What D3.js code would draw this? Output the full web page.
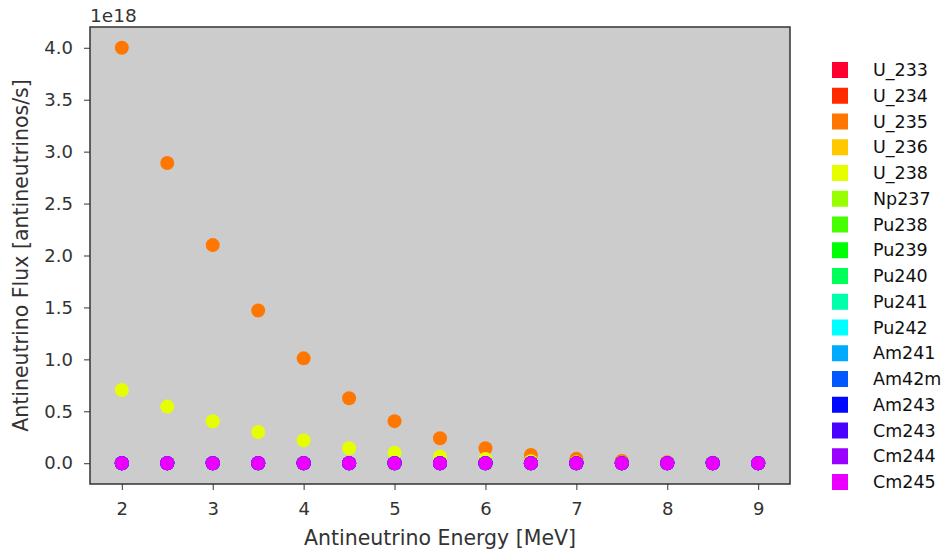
<!DOCTYPE html>
<html>
<head>
<meta charset="utf-8">
<script src="https://cdn.jsdelivr.net/npm/d3@7"></script>
<style>
  body { margin: 0; background: white; }
  svg text { font-family: "DejaVu Sans", sans-serif; }
</style>
</head>
<body>
<div id="chart"></div>
<script>
// energies in MeV
const energies = [2, 2.5, 3, 3.5, 4, 4.5, 5, 5.5, 6, 6.5, 7, 7.5, 8, 8.5, 9];

const isotopes = ["U_233", "U_234", "U_235", "U_236", "U_238", "Np237", "Pu238", "Pu239",
  "Pu240", "Pu241", "Pu242", "Am241", "Am42m", "Am243", "Cm243", "Cm244", "Cm245"];

const colors = ["#ff0030", "#ff2a00", "#ff7700", "#ffc800", "#e6ff00", "#99ff00", "#48ff00", "#00ff06",
  "#00ff58", "#00ffaa", "#00ffff", "#00aaff", "#0059ff", "#0008ff", "#4a00ff", "#9a00ff", "#eb00ff"];

// flux in units of 1e18 antineutrinos/s, one row per isotope
const fluxValues = [
  [0, 0, 0, 0, 0, 0, 0, 0, 0, 0, 0, 0, 0, 0, 0],
  [0, 0, 0, 0, 0, 0, 0, 0, 0, 0, 0, 0, 0, 0, 0],
  [4.00, 2.89, 2.10, 1.47, 1.01, 0.626, 0.405, 0.24, 0.144, 0.08, 0.042, 0.022, 0.01, 0.004, 0.002],
  [0, 0, 0, 0, 0, 0, 0, 0, 0, 0, 0, 0, 0, 0, 0],
  [0.705, 0.545, 0.404, 0.30, 0.22, 0.144, 0.10, 0.064, 0.04, 0.02, 0.01, 0.005, 0.002, 0.001, 0],
  [0, 0, 0, 0, 0, 0, 0, 0, 0, 0, 0, 0, 0, 0, 0],
  [0, 0, 0, 0, 0, 0, 0, 0, 0, 0, 0, 0, 0, 0, 0],
  [0, 0, 0, 0, 0, 0, 0, 0, 0, 0, 0, 0, 0, 0, 0],
  [0, 0, 0, 0, 0, 0, 0, 0, 0, 0, 0, 0, 0, 0, 0],
  [0, 0, 0, 0, 0, 0, 0, 0, 0, 0, 0, 0, 0, 0, 0],
  [0, 0, 0, 0, 0, 0, 0, 0, 0, 0, 0, 0, 0, 0, 0],
  [0, 0, 0, 0, 0, 0, 0, 0, 0, 0, 0, 0, 0, 0, 0],
  [0, 0, 0, 0, 0, 0, 0, 0, 0, 0, 0, 0, 0, 0, 0],
  [0, 0, 0, 0, 0, 0, 0, 0, 0, 0, 0, 0, 0, 0, 0],
  [0, 0, 0, 0, 0, 0, 0, 0, 0, 0, 0, 0, 0, 0, 0],
  [0, 0, 0, 0, 0, 0, 0, 0, 0, 0, 0, 0, 0, 0, 0],
  [0, 0, 0, 0, 0, 0, 0, 0, 0, 0, 0, 0, 0, 0, 0]
];

const xTicks = [2, 3, 4, 5, 6, 7, 8, 9];
const yTicks = [0, 0.5, 1, 1.5, 2, 2.5, 3, 3.5, 4];

var width = 943, height = 554;
var margin = {left: 90, right: 153, top: 27, bottom: 70};
var plotW = width - margin.left - margin.right;
var plotH = height - margin.top - margin.bottom;

var svg = d3.select("#chart")
  .append("svg")
  .attr("width", width)
  .attr("height", height);

var x = d3.scaleLinear().domain([1.65, 9.35]).range([0, plotW]);
var y = d3.scaleLinear().domain([-0.2, 4.2]).range([plotH, 0]);

var g = svg.append("g")
  .attr("transform", "translate(" + margin.left + "," + margin.top + ")");

g.append("rect")
  .attr("width", plotW)
  .attr("height", plotH)
  .attr("fill", "#cccccc");

// points, drawn series by series so the last isotope sits on top
fluxValues.forEach(function(row, i) {
  g.append("g").selectAll("circle")
    .data(row)
    .enter()
    .append("circle")
    .attr("cx", function(d, j) { return x(energies[j]); })
    .attr("cy", function(d) { return y(d); })
    .attr("r", 7)
    .attr("fill", colors[i]);
});

// axes
var xAxis = g.append("g")
  .attr("transform", "translate(0," + plotH + ")")
  .call(d3.axisBottom(x).tickValues(xTicks).tickSize(6).tickPadding(12).tickFormat(d3.format("d")));

var yAxis = g.append("g")
  .call(d3.axisLeft(y).tickValues(yTicks).tickSize(6).tickPadding(11).tickFormat(d3.format(".1f")));

[xAxis, yAxis].forEach(function(a) {
  a.select(".domain").remove();
  a.selectAll(".tick line").attr("stroke", "#333").attr("stroke-width", 1);
  a.selectAll(".tick text")
    .attr("fill", "#333")
    .style("font-size", "18px");
});

// frame
g.append("rect")
  .attr("width", plotW)
  .attr("height", plotH)
  .attr("fill", "none")
  .attr("stroke", "#333")
  .attr("stroke-width", 1.5);

// offset label
svg.append("text")
  .attr("x", margin.left)
  .attr("y", 22)
  .attr("fill", "#333")
  .style("font-size", "18.5px")
  .text("1e18");

svg.append("text")
  .attr("x", margin.left + plotW / 2)
  .attr("y", 545)
  .attr("fill", "#333")
  .style("text-anchor", "middle")
  .style("font-size", "20.5px")
  .text("Antineutrino Energy [MeV]");

svg.append("text")
  .attr("transform", "translate(28," + (margin.top + plotH / 2) + ") rotate(-90)")
  .attr("fill", "#333")
  .style("text-anchor", "middle")
  .style("font-size", "20.5px")
  .text("Antineutrino Flux [antineutrinos/s]");

// legend
var legend = svg.append("g")
  .attr("transform", "translate(832,70)");

var rows = legend.selectAll("g")
  .data(isotopes)
  .enter()
  .append("g")
  .attr("transform", function(d, i) { return "translate(0," + (i * 25.75) + ")"; });

rows.append("rect")
  .attr("x", 0)
  .attr("y", -8)
  .attr("width", 16)
  .attr("height", 16)
  .attr("fill", function(d, i) { return colors[i]; });

rows.append("text")
  .attr("x", 41)
  .attr("y", 6)
  .attr("fill", "#111")
  .style("font-size", "17.5px")
  .text(function(d) { return d; });
</script>
</body>
</html>
